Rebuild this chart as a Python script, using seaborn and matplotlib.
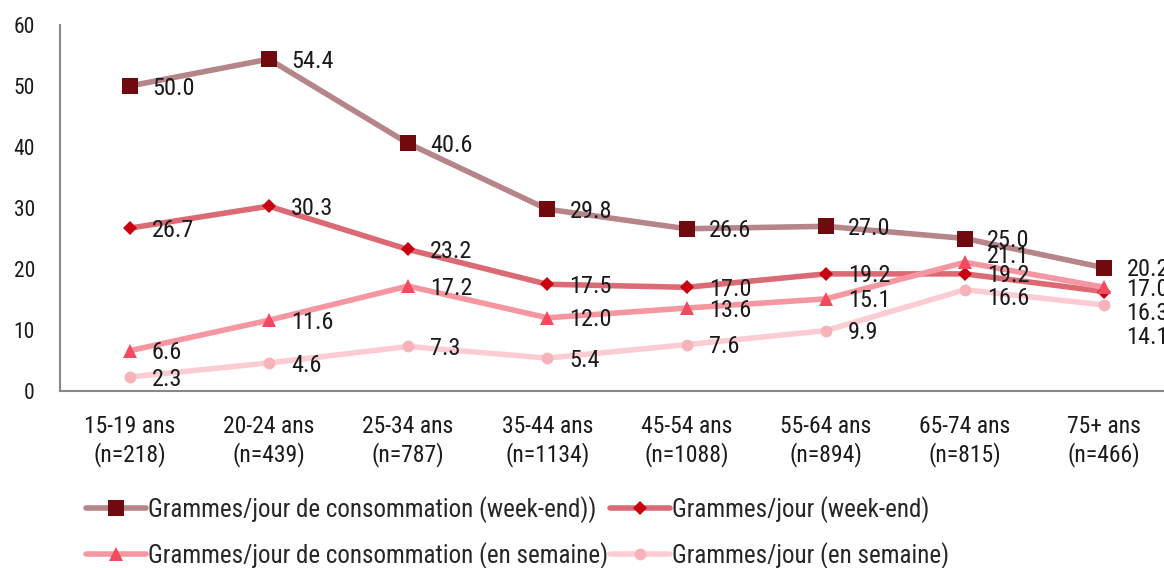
import numpy as np
import pandas as pd
import matplotlib
matplotlib.use("Agg")
import matplotlib.pyplot as plt
import seaborn as sns

# data
age_groups = ["15-19 ans\n(n=218)", "20-24 ans\n(n=439)", "25-34 ans\n(n=787)",
              "35-44 ans\n(n=1134)", "45-54 ans\n(n=1088)", "55-64 ans\n(n=894)",
              "65-74 ans\n(n=815)", "75+ ans\n(n=466)"]
conso_we = [50.0, 54.4, 40.6, 29.8, 26.6, 27.0, 25.0, 20.2]
jour_we = [26.7, 30.3, 23.2, 17.5, 17.0, 19.2, 19.2, 16.3]
conso_sem = [6.6, 11.6, 17.2, 12.0, 13.6, 15.1, 21.1, 17.0]
jour_sem = [2.3, 4.6, 7.3, 5.4, 7.6, 9.9, 16.6, 14.1]

series_names = ["Grammes/jour de consommation (week-end))",
                "Grammes/jour (week-end)",
                "Grammes/jour de consommation (en semaine)",
                "Grammes/jour (en semaine)"]
series_vals = [conso_we, jour_we, conso_sem, jour_sem]

# styles: line colour, marker colour, marker, marker size
styles = [
    ("#B5858A", "#700A0E", "s", 11.5),
    ("#DC6A74", "#C8000F", "D", 7.5),
    ("#F596A1", "#F24A5E", "^", 10.5),
    ("#FBCDD3", "#F8B2BA", "o", 8.5),
]

# label nudges (pixels downward) where labels were moved apart in the original
nudge = {(2, 6): -8, (3, 6): 7, (1, 7): 20, (3, 7): 30}

sns.set_theme(style="white")
plt.rcParams["font.family"] = ["Roboto Condensed", "PT Sans Narrow", "Liberation Sans", "DejaVu Sans"]

fig = plt.figure(figsize=(11.64, 5.68), dpi=100)
ax = fig.add_axes([0.0515, 0.3116, 0.957, 0.6444])

for k, (name, vals, (lc, mc, mk, ms)) in enumerate(zip(series_names, series_vals, styles)):
    df = pd.DataFrame({"age": age_groups, "val": vals})
    sns.lineplot(data=df, x="age", y="val", ax=ax, color=lc, linewidth=4,
                 marker=mk, markersize=ms, markerfacecolor=mc,
                 markeredgecolor=mc, markeredgewidth=0, label=name, sort=False)
    for i, v in enumerate(vals):
        dy = -1.5 - 0.72 * nudge.get((k, i), 0)
        ax.annotate(f"{v:.1f}", (i, v), xytext=(16, dy), textcoords="offset points",
                    ha="left", va="center", fontsize=17.5, color="#1a1a1a",
                    annotation_clip=False)

ax.set_xlim(-0.5, 7.5)
ax.set_ylim(0, 60)
ax.set_yticks(range(0, 61, 10))
ax.set_xlabel("")
ax.set_ylabel("")
ax.tick_params(axis="x", labelsize=17, colors="#1a1a1a", length=0, pad=17)
ax.tick_params(axis="y", labelsize=15.5, colors="#1a1a1a", length=0, pad=18)
for t in ax.get_xticklabels():
    t.set_linespacing(1.25)
for side in ["top", "right"]:
    ax.spines[side].set_visible(False)
for side in ["left", "bottom"]:
    ax.spines[side].set_color("#888888")
    ax.spines[side].set_linewidth(1.5)

h, l = ax.get_legend_handles_labels()
order = [0, 2, 1, 3]
ax.legend([h[i] for i in order], [l[i] for i in order], ncol=2,
          loc="upper left", bbox_to_anchor=(0.014, -0.26), frameon=False,
          fontsize=18, handlelength=2.4, handletextpad=0.08, columnspacing=0.1,
          labelspacing=0.75, borderaxespad=0)

fig.savefig("out.png", dpi=100)
